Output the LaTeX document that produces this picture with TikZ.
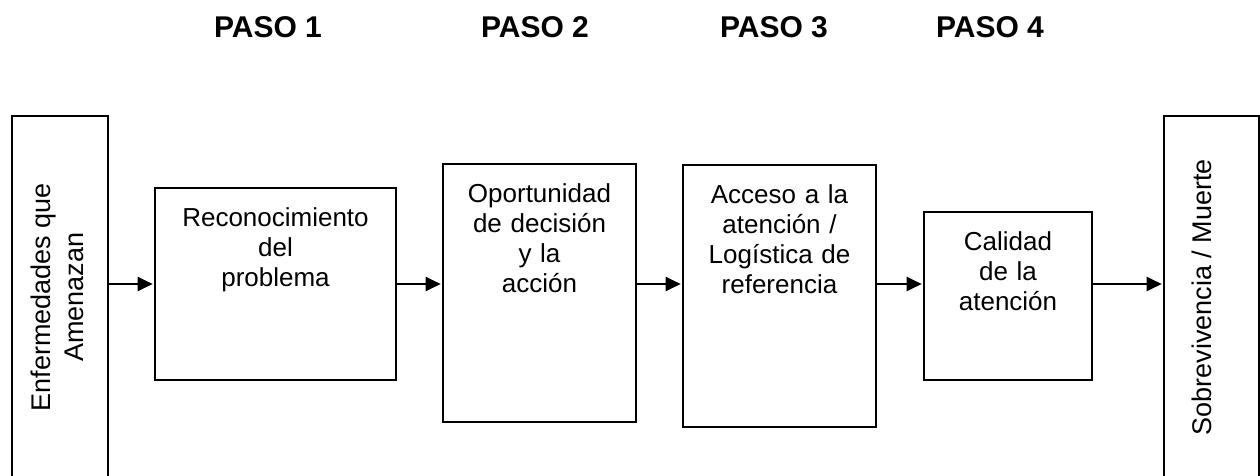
\documentclass[tikz,border=0pt]{standalone}
\usepackage{fontspec}
\setmainfont{Liberation Sans}
\usetikzlibrary{arrows.meta}

\begin{document}
\begin{tikzpicture}[x=1pt,y=-1pt]
  % Styles
  \tikzset{
    caja/.style={draw, line width=2.6pt, inner sep=0pt, align=center,
      text height=38pt, font=\fontsize{26}{30}\selectfont},
    lado/.style={draw, line width=2.6pt, inner sep=0pt,
      minimum height=362pt, font=\fontsize{27}{33}\selectfont},
    flecha/.style={line width=2pt, shorten >=1pt,
      -{Triangle[length=15pt,width=14pt]}},
    paso/.style={anchor=base, font=\fontsize{30}{36}\selectfont\bfseries}
  }

  \useasboundingbox (0,0) rectangle (1260,475);

  % Headings
  \node[paso] (p1) at (268,37) {PASO 1};
  \node[paso] (p2) at (535,37) {PASO 2};
  \node[paso] (p3) at (774,37) {PASO 3};
  \node[paso] (p4) at (990,37) {PASO 4};

  % Side boxes
  \node[lado, minimum width=96pt] (enf) at (60,297)
    {\rotatebox{90}{\begin{tabular}{@{}c@{}}Enfermedades que\\Amenazan\end{tabular}}};
  \node[lado, minimum width=95pt] (sob) at (1211.5,297)
    {\rotatebox{90}{Sobrevivencia / Muerte}\kern20pt};

  % Steps
  \node[caja, text width=241pt, text depth=154pt] (rec) at (275.5,284)
    {Reconocimiento\\del\\problema};
  \node[caja, text width=193pt, text depth=220pt] (opo) at (539.5,293)
    {Oportunidad\\de decisión\\y la\\acción};
  \node[caja, text width=193pt, text depth=224pt] (acc) at (779.5,296)
    {Acceso a la\\atención /\\Logística de\\referencia};
  \node[caja, text width=168pt, text depth=130pt] (cal) at (1008,296)
    {Calidad\\de la\\atención};

  % Arrows
  \draw[flecha] (enf.east |- rec.west) -- (rec.west);
  \draw[flecha] (rec.east) -- (opo.west |- rec.east);
  \draw[flecha] (opo.east |- rec.east) -- (acc.west |- rec.east);
  \draw[flecha] (acc.east |- rec.east) -- (cal.west |- rec.east);
  \draw[flecha] (cal.east |- rec.east) -- (sob.west |- rec.east);
\end{tikzpicture}
\end{document}
